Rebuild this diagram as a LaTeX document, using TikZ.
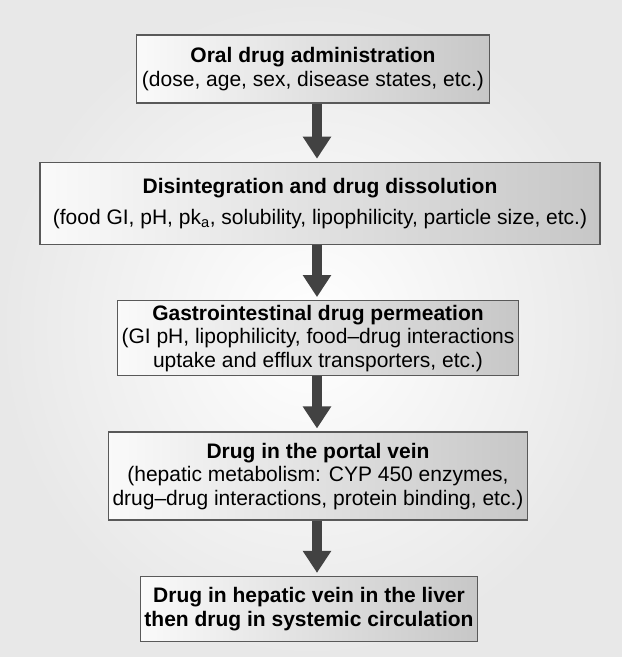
\documentclass[tikz,border=0pt]{standalone}
\usepackage{fontspec}
\setmainfont{Liberation Sans}
\usetikzlibrary{arrows.meta,positioning}

\begin{document}
\begin{tikzpicture}[node distance=55pt,>=Latex,
  stagebox/.style={draw=black!65,line width=1.4pt,align=center,inner sep=4pt,
    left color=black!2,right color=black!22,
    font=\fontsize{21}{23.5}\selectfont},
  headtxt/.style={font=\fontsize{21}{23.5}\selectfont\bfseries},
  flow/.style={-{Triangle[length=22pt,width=27pt]},line width=10pt,draw=black!74,shorten >=3pt}]
\useasboundingbox (0,0) rectangle (622pt,657pt);
\shade[inner color=white,outer color=black!9] (0,0) rectangle (622pt,657pt);
\node[stagebox,minimum width=353pt,minimum height=68pt] (oral) at (313pt,588pt)
  {\textbf{Oral drug administration}\\(dose, age, sex, disease states, etc.)};
\node[stagebox,minimum width=560pt,minimum height=82pt,below=58pt of oral,xshift=7pt] (dissol)
  {\textbf{Disintegration and drug dissolution}\\[7pt](food GI, pH, pk$_{\mathrm{a}}$, solubility, lipophilicity, particle size, etc.)};
\node[stagebox,minimum height=75pt,below=of dissol,xshift=-2pt] (perm)
  {\textbf{Gastrointestinal drug permeation}\\(GI pH, lipophilicity, food--drug interactions\\uptake and efflux transporters, etc.)};
\node[stagebox,minimum height=88pt,below=of perm] (portal)
  {\textbf{Drug in the portal vein}\\(hepatic metabolism: CYP 450 enzymes,\\drug--drug interactions, protein binding, etc.)};
\node[stagebox,minimum height=65pt,below=of portal,xshift=-9pt,headtxt] (hepatic)
  {Drug in hepatic vein in the liver\\then drug in systemic circulation};
\draw[flow] (oral.south -| 317pt,0) -- (dissol.north -| 317pt,0);
\draw[flow] (dissol.south -| 317pt,0) -- (perm.north -| 317pt,0);
\draw[flow] (perm.south -| 317pt,0) -- (portal.north -| 317pt,0);
\draw[flow] (portal.south -| 317pt,0) -- (hepatic.north -| 317pt,0);
\end{tikzpicture}
\end{document}
